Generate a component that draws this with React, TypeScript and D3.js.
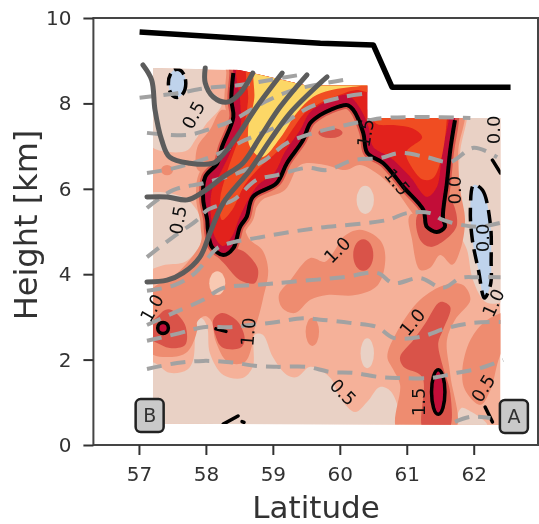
import React, { useEffect, useRef } from 'react';
import * as d3 from 'd3';

type P = [number, number];

const latTicks = [57, 58, 59, 60, 61, 62];
const heightTicks = [0, 2, 4, 6, 8, 10];

// outline of the section that has data
const field: P[] = [[57.21, 0.5], [57.21, 8.83], [58.5, 8.78], [59.5, 8.42], [60.41, 8.42], [60.41, 7.66], [62.4, 7.66], [62.4, 0.47]];

// filled contour levels as [latitude, height]
const beigeUpper: P[] = [[58.02, 9.02], [57.99, 8.43], [58.24, 8.01], [57.99, 7.49], [57.84, 7.14], [57.73, 6.91], [57.46, 6.86], [57.16, 7.03], [56.87, 9.02]];
const beigeLobe: P[] = [[57.0, 5.81], [57.69, 5.78], [57.96, 5.15], [57.91, 4.68], [57.69, 4.29], [57.39, 4.22], [57.0, 4.1]];
const beigeBottom: P[] = [[56.87, 1.94], [57.21, 1.94], [57.46, 1.69], [57.72, 1.76], [57.81, 1.99], [57.87, 2.93], [57.94, 2.97], [58.02, 2.76], [58.06, 2.15], [58.26, 1.64], [58.55, 1.57], [58.7, 1.83], [58.73, 2.58], [58.85, 2.58], [59.0, 2.06], [59.21, 1.64], [59.36, 1.59], [59.56, 1.83], [59.86, 1.57], [60.0, 1.12], [60.23, 0.77], [60.41, 1.01], [60.6, 1.36], [60.78, 1.22], [60.84, 0.35], [56.87, 0.35]];
const beigeRight: P[] = [[61.9, 8.0], [61.9, 7.66], [61.8, 6.91], [61.77, 5.97], [61.77, 5.04], [61.9, 4.57], [61.99, 3.86], [62.2, 3.33], [62.55, 3.51], [62.55, 8.0]];
const beigeCorner: P[] = [[61.75, 0.52], [61.82, 0.87], [61.97, 0.77], [62.14, 0.59], [62.2, 0.47]];

const coralUpper: P[] = [[58.24, 7.85], [58.06, 7.38], [57.87, 6.96], [57.88, 6.44], [58.09, 6.37], [58.29, 6.91], [58.39, 7.73]];
const coralWest: P[] = [[57.99, 5.15], [57.91, 4.68], [57.54, 3.98], [57.16, 3.58], [57.16, 2.18], [57.46, 2.06], [57.72, 2.18], [57.87, 2.69], [57.87, 2.88], [57.99, 3.02], [58.09, 2.88], [58.14, 2.46], [58.33, 1.94], [58.58, 1.94], [58.69, 2.34], [58.72, 2.69], [58.78, 2.97], [58.85, 3.4], [58.93, 4.1], [58.84, 4.57], [58.66, 4.8], [58.51, 5.15]];
const coralCentre: P[] = [[59.09, 3.51], [59.26, 3.86], [59.56, 4.38], [59.78, 4.29], [59.93, 4.57], [60.05, 4.87], [60.3, 5.04], [60.6, 4.8], [60.68, 4.4], [60.57, 3.75], [60.23, 3.51], [59.81, 3.51], [59.56, 3.4], [59.33, 3.09], [59.14, 3.21]];
const coralPlateau: P[] = [[58.66, 5.39], [58.84, 5.74], [59.18, 5.97], [59.41, 6.56], [59.78, 6.56], [60.08, 6.44], [60.3, 6.56], [60.53, 6.39], [60.83, 5.97], [61.2, 5.22], [61.45, 4.99], [61.2, 6.91], [60.15, 7.96], [59.26, 7.38], [58.51, 5.97]];
const coralEast: P[] = [[61.05, 5.39], [61.08, 4.8], [61.2, 4.1], [61.35, 4.15], [61.5, 4.45], [61.68, 4.22], [61.8, 4.57], [61.87, 5.27], [61.8, 5.97], [61.77, 6.91], [61.87, 7.66], [61.87, 8.1], [61.57, 8.1], [61.57, 5.39]];
const coralLower: P[] = [[60.71, 2.06], [60.83, 2.58], [61.2, 3.4], [61.57, 3.75], [61.84, 3.75], [61.95, 3.4], [61.72, 2.93], [61.6, 2.46], [61.65, 1.64], [61.72, 0.35], [60.86, 0.35], [60.9, 1.41], [60.8, 1.76]];
const coralEdge: P[] = [[62.55, 3.11], [62.2, 2.93], [61.95, 2.46], [61.83, 1.76], [61.87, 1.29], [62.1, 0.94], [62.25, 1.29], [62.37, 1.99], [62.55, 2.69]];

const darkWest: P[] = [[57.21, 2.93], [57.39, 3.16], [57.49, 3.16], [57.69, 2.81], [57.69, 2.34], [57.46, 2.27], [57.24, 2.41], [57.0, 2.58], [57.0, 2.88]];
const darkSecond: P[] = [[58.11, 2.93], [58.24, 3.09], [58.48, 2.88], [58.58, 2.46], [58.51, 2.27], [58.24, 2.29], [58.14, 2.58]];
const darkTip: P[] = [[58.11, 4.57], [58.51, 4.57], [58.66, 4.4], [58.78, 4.1], [58.73, 3.79], [58.51, 3.86], [58.29, 4.22]];
const darkEast: P[] = [[61.16, 5.39], [61.2, 4.8], [61.35, 4.64], [61.57, 4.8], [61.75, 5.15], [61.65, 5.74], [61.5, 5.62]];
const darkLower: P[] = [[60.9, 2.06], [61.1, 2.46], [61.28, 2.86], [61.5, 3.35], [61.65, 3.23], [61.54, 2.69], [61.47, 2.39], [61.54, 1.83], [61.65, 1.22], [61.62, 0.35], [61.25, 0.35], [61.23, 1.59], [60.95, 1.83]];

// the 1.5 contour along the ridge
const ridge: P[] = [[58.41, 8.71], [58.38, 8.08], [58.41, 7.68], [58.24, 6.98], [58.17, 6.6], [57.99, 6.28], [57.96, 5.74], [58.02, 5.27], [58.03, 5.04], [58.09, 4.64], [58.26, 4.45], [58.41, 4.61], [58.51, 5.11], [58.61, 5.34], [58.7, 5.81], [59.06, 6.14], [59.21, 6.6], [59.45, 7.14], [59.56, 7.54], [59.71, 7.73], [59.86, 7.85], [60.11, 7.96], [60.2, 7.85], [60.35, 7.31], [60.41, 6.84], [60.65, 6.6], [60.95, 6.04], [61.25, 5.5], [61.28, 5.2], [61.3, 5.11], [61.45, 4.99], [61.57, 5.11], [61.54, 5.34], [61.6, 6.14], [61.65, 6.91], [61.72, 7.61]];
const ridgeCap: P[] = [[61.74, 9.05], [58.41, 9.05]];
const redCore: P[] = [[58.51, 9.02], [58.51, 8.08], [58.52, 7.49], [58.38, 6.91], [58.24, 6.44], [58.09, 5.97], [58.08, 5.27], [58.14, 4.85], [58.26, 4.66], [58.39, 4.89], [58.51, 5.36], [58.63, 5.74], [58.78, 6.09], [59.03, 6.39], [59.18, 6.86], [59.41, 7.38], [59.56, 7.8], [59.86, 8.08], [60.11, 8.2], [60.27, 7.96], [60.42, 7.49], [60.5, 6.98], [60.75, 6.74], [61.05, 6.28], [61.3, 5.81], [61.45, 6.04], [61.53, 6.91], [61.63, 7.66], [61.63, 9.02]];
const orangeWest: P[] = [[58.66, 9.02], [58.63, 8.08], [58.57, 7.49], [58.43, 6.91], [58.3, 6.32], [58.21, 5.74], [58.24, 5.27], [58.39, 5.5], [58.58, 6.09], [58.84, 6.56], [59.06, 6.86], [59.29, 7.38], [59.48, 7.78], [59.71, 8.01], [60.0, 8.2], [60.23, 8.31], [60.53, 8.27], [60.53, 9.02]];
const orangeEast: P[] = [[60.53, 8.08], [61.6, 8.08], [61.6, 7.66], [61.51, 6.67], [61.39, 6.25], [61.25, 6.21], [61.08, 6.49], [60.99, 6.86], [61.23, 7.21], [61.08, 7.42], [60.83, 7.49], [60.53, 7.54]];
const yellowCore: P[] = [[58.78, 9.02], [58.72, 8.08], [58.63, 7.38], [58.66, 6.98], [58.84, 6.74], [59.11, 7.19], [59.36, 7.78], [59.6, 8.15], [59.86, 8.31], [60.3, 8.41], [60.53, 8.45], [60.53, 9.02]];
const blueStrip: P[] = [[62.0, 6.09], [62.13, 5.97], [62.25, 5.15], [62.26, 4.33], [62.25, 3.75], [62.16, 3.44], [62.07, 4.1], [61.98, 4.8], [61.95, 5.5]];

// small closed blobs: lat, height, half width, half height
const beigeSpots = [[60.41, 2.15, 0.1, 0.35], [60.38, 5.74, 0.13, 0.33], [58.17, 3.79, 0.12, 0.28]];
const coralSpots = [[59.59, 2.65, 0.1, 0.33], [57.42, 6.44, 0.09, 0.12]];
const darkSpots = [[60.35, 4.45, 0.15, 0.37], [59.86, 7.31, 0.18, 0.12]];
const crimsonSpots = [[61.47, 1.24, 0.1, 0.52], [57.36, 2.74, 0.08, 0.13]];
const blueSpots = [[57.57, 8.47, 0.13, 0.33]];

const blackBits: P[][] = [
  [[58.26, 0.49], [58.48, 0.68]],
  [[58.54, 0.55], [58.57, 0.53]],
  [[62.17, 0.89], [62.28, 0.54]],
  [[58.15, 2.72], [58.3, 2.66]],
  [[62.28, 6.67], [62.4, 6.37]],
];

// solid grey lines
const grey1: P[] = [[57.06, 8.9], [57.19, 8.55], [57.24, 7.85], [57.34, 7.14], [57.46, 6.74], [57.76, 6.6], [58.11, 6.6], [58.21, 6.72], [58.46, 7.21], [58.76, 7.92], [59.14, 8.71]];
const grey2: P[] = [[57.99, 8.83], [57.99, 8.48], [58.11, 8.15], [58.32, 8.03], [58.51, 8.24], [58.7, 8.71]];
const grey3: P[] = [[57.12, 5.81], [57.42, 5.81], [57.72, 5.74], [57.96, 5.93], [58.26, 6.28], [58.55, 6.6], [58.81, 7.21], [59.11, 7.92], [59.51, 8.67]];
const grey4: P[] = [[57.12, 3.82], [57.42, 3.86], [57.66, 4.03], [57.91, 4.4], [58.06, 4.96], [58.26, 5.67], [58.66, 6.44], [58.96, 7.14], [59.26, 7.78], [59.71, 8.48], [59.81, 8.62]];

// dashed grey lines
const dash1: P[] = [[57.01, 8.13], [57.57, 8.24], [58.02, 8.36], [58.51, 8.43], [58.96, 8.55], [59.41, 8.67]];
const dash2: P[] = [[57.12, 7.31], [57.72, 7.26], [58.02, 7.38], [58.41, 7.61], [58.85, 8.01], [59.3, 8.31], [60.05, 8.55]];
const dash3: P[] = [[57.12, 6.37], [57.54, 6.49], [58.14, 6.79], [58.58, 7.14], [59.11, 7.49], [59.56, 7.92], [60.05, 8.15], [60.45, 8.24]];
const dash4: P[] = [[57.12, 5.55], [57.51, 5.97], [57.99, 6.14], [58.51, 6.39], [58.88, 6.67], [59.21, 7.07], [59.66, 7.33], [60.08, 7.49], [60.45, 7.61], [60.68, 7.66], [61.2, 7.68], [61.95, 7.66]];
const dash5: P[] = [[57.12, 4.4], [57.51, 4.87], [57.87, 5.27], [58.02, 5.5], [58.41, 5.74], [58.76, 6.21], [59.06, 6.32], [59.51, 6.49], [59.81, 6.44], [60.2, 6.67], [60.6, 6.72], [60.9, 6.84], [61.3, 6.74], [61.65, 6.63], [62.0, 6.96], [62.35, 6.74]];
const dash6: P[] = [[57.12, 3.61], [57.54, 3.75], [57.84, 4.03], [58.17, 4.61], [58.41, 4.75], [58.76, 4.85], [59.15, 4.96], [59.66, 5.08], [60.71, 5.27], [61.0, 5.43], [61.35, 5.43], [61.54, 5.27], [62.05, 5.11], [62.44, 5.22]];
const dash7: P[] = [[57.12, 2.81], [57.51, 3.09], [57.96, 3.4], [58.26, 3.68], [58.76, 3.75], [59.26, 3.82], [60.05, 3.93], [60.56, 4.03], [60.8, 3.79], [61.2, 3.91], [61.54, 3.68], [61.8, 3.91], [62.05, 3.93], [62.4, 3.93]];
const dash8: P[] = [[57.12, 2.44], [57.61, 2.62], [57.96, 2.76], [58.36, 2.76], [58.66, 2.81], [59.06, 2.88], [59.45, 2.97], [59.75, 2.93], [60.15, 2.86], [60.56, 2.76], [60.8, 2.51], [61.2, 2.53], [61.6, 2.74], [61.99, 2.86], [62.4, 2.88]];
const dash9: P[] = [[57.12, 1.78], [57.57, 1.92], [57.96, 1.97], [58.36, 1.94], [58.76, 1.85], [59.06, 1.83], [59.51, 1.83], [59.86, 1.71], [60.2, 1.69], [60.6, 1.59], [60.9, 1.57], [61.35, 1.57], [61.75, 1.69], [62.1, 1.8], [62.44, 1.99]];
const dash10: P[] = [[61.72, 0.54], [61.95, 0.66], [62.25, 0.63]];

const topLine: P[] = [[57.01, 9.67], [59.71, 9.41], [60.5, 9.37], [60.78, 8.38], [62.55, 8.38]];

// contour labels: text, lat, height, rotation
const contourLabels: [string, number, number, number][] = [
  ['0.5', 57.81, 7.73, -62], ['0.5', 57.58, 5.27, -80], ['1.0', 57.19, 3.21, -60],
  ['1.0', 58.63, 2.65, -85], ['1.0', 59.96, 4.57, -45], ['1.0', 61.08, 2.88, -50],
  ['1.5', 61.17, 1.01, -90], ['0.5', 60.05, 1.24, 45], ['0.5', 62.14, 1.33, -58],
  ['1.0', 62.29, 3.33, -65], ['0.0', 62.29, 7.38, -90], ['0.0', 61.72, 5.97, -90],
  ['1.5', 60.38, 7.31, -80], ['1.5', 60.86, 6.16, 50], ['0.0', 62.13, 4.85, -90],
];
const endLabels: [string, number, number][] = [['B', 57.16, 0.7], ['A', 62.6, 0.68]];

const BEIGE = '#e9d1c5';
const SALMON = '#f5b199';
const CORAL = '#ee8c70';
const DARK = '#d9534a';
const CRIMSON = '#c20d38';
const RED = '#e2201c';
const ORANGE = '#f04e20';
const YELLOW = '#fcd766';
const BLUE = '#bfd3ec';
const FONT = '"DejaVu Sans", sans-serif';

const x = d3.scaleLinear().domain([56.32, 62.96]).range([93.4, 538]);
const y = d3.scaleLinear().domain([0, 10]).range([445, 18]);

const closed = d3.line<P>().x(d => x(d[0])).y(d => y(d[1])).curve(d3.curveCatmullRomClosed.alpha(0.5));
const open = d3.line<P>().x(d => x(d[0])).y(d => y(d[1])).curve(d3.curveCatmullRom.alpha(0.5));
const straight = d3.line<P>().x(d => x(d[0])).y(d => y(d[1]));

const App = () => {
  const xAxis = useRef<SVGGElement>(null);
  const yAxis = useRef<SVGGElement>(null);

  useEffect(() => {
    const style = (g: any) => {
      g.select('.domain').remove();
      g.selectAll('line').attr('stroke', '#333').attr('stroke-width', 2);
      g.selectAll('text').attr('fill', '#333').style('font-family', FONT).style('font-size', '20px');
    };
    d3.select(xAxis.current).call(d3.axisBottom(x).tickValues(latTicks).tickSize(10).tickPadding(12).tickFormat(d3.format('d')) as any).call(style);
    d3.select(yAxis.current).call(d3.axisLeft(y).tickValues(heightTicks).tickSize(10).tickPadding(12).tickFormat(d3.format('d')) as any).call(style);
  }, []);

  const fill = (pts: P[], color: string) => <path key={color + pts[0].join()} d={closed(pts)!} fill={color} />;
  const spot = (s: number[], color: string) => (
    <ellipse key={color + s.join()} cx={x(s[0])} cy={y(s[1])} rx={x(s[0] + s[2]) - x(s[0])} ry={y(s[1]) - y(s[1] + s[3])} fill={color} />
  );
  const ridgeShape = closed([...ridge, ...ridgeCap])!;

  return (
    <svg width={539} height={524} style={{ position: 'absolute', left: 0, top: 0 }}>
      <defs>
        <clipPath id="fieldClip"><path d={straight(field) + 'Z'} /></clipPath>
        <filter id="soft" x="-5%" y="-5%" width="110%" height="110%"><feGaussianBlur stdDeviation={0.6} /></filter>
      </defs>
      <g filter="url(#soft)">
        <g clipPath="url(#fieldClip)">
          <path d={straight(field) + 'Z'} fill={SALMON} />
          {[beigeUpper, beigeLobe, beigeBottom, beigeRight, beigeCorner].map(p => fill(p, BEIGE))}
          {beigeSpots.map(s => spot(s, BEIGE))}
          {[coralUpper, coralWest, coralCentre, coralPlateau, coralEast, coralLower, coralEdge].map(p => fill(p, CORAL))}
          {coralSpots.map(s => spot(s, CORAL))}
          {beigeSpots.slice(2).map(s => spot(s, '#f8c9b2'))}
          <path d={ridgeShape} fill="none" stroke={CORAL} strokeWidth={14} />
          <path d={ridgeShape} fill="none" stroke={DARK} strokeWidth={8} />
          {[darkWest, darkSecond, darkTip, darkEast, darkLower].map(p => fill(p, DARK))}
          {darkSpots.map(s => spot(s, DARK))}
          <path d={ridgeShape} fill={CRIMSON} />
          {fill(redCore, RED)}
          {fill(orangeWest, ORANGE)}
          {fill(orangeEast, ORANGE)}
          {fill(yellowCore, YELLOW)}
          {fill(blueStrip, BLUE)}
          {blueSpots.map(s => spot(s, BLUE))}
          {crimsonSpots.map(s => spot(s, CRIMSON))}
          <path d={open(ridge)!} fill="none" stroke="#000" strokeWidth={4} />
          <path d={closed(blueStrip)!} fill="none" stroke="#000" strokeWidth={3.5} strokeDasharray="14 7" />
          {blueSpots.map(s => (
            <ellipse key={s.join()} cx={x(s[0])} cy={y(s[1])} rx={x(s[0] + s[2]) - x(s[0])} ry={y(s[1]) - y(s[1] + s[3])} fill="none" stroke="#000" strokeWidth={3.5} strokeDasharray="12 5" />
          ))}
          {crimsonSpots.map(s => (
            <ellipse key={s.join()} cx={x(s[0])} cy={y(s[1])} rx={x(s[0] + s[2]) - x(s[0])} ry={y(s[1]) - y(s[1] + s[3])} fill="none" stroke="#000" strokeWidth={3.5} />
          ))}
          {blackBits.map(b => <path key={b.join()} d={straight(b)!} fill="none" stroke="#000" strokeWidth={3.5} strokeLinecap="round" />)}
        </g>
        {[dash1, dash2, dash3, dash4, dash5, dash6, dash7, dash8, dash9, dash10].map(d => (
          <path key={d[0].join()} d={open(d)!} fill="none" stroke="#a2a2a2" strokeWidth={4} strokeDasharray="15 9" />
        ))}
        {[grey1, grey2, grey3, grey4].map(d => (
          <path key={d[0].join()} d={open(d)!} fill="none" stroke="#5c5c5c" strokeWidth={5} strokeLinecap="round" />
        ))}
        <path d={straight(topLine)!} fill="none" stroke="#000" strokeWidth={5.5} strokeLinejoin="round" />
        {contourLabels.map(([t, la, h, r], i) => (
          <text key={i} transform={`translate(${x(la)},${y(h)}) rotate(${r})`} textAnchor="middle" dominantBaseline="central" fontFamily={FONT} fontSize={18} fill="#111">{t}</text>
        ))}
        {endLabels.map(([t, la, h]) => (
          <g key={t} transform={`translate(${x(la)},${y(h)})`}>
            <rect x={-14} y={-16} width={28} height={33} rx={5} fill="#c9c9c9" stroke="#222" strokeWidth={2.5} />
            <text textAnchor="middle" dominantBaseline="central" fontFamily={FONT} fontSize={19} fill="#333">{t}</text>
          </g>
        ))}
        <rect x={x.range()[0]} y={y.range()[1]} width={x.range()[1] - x.range()[0]} height={y.range()[0] - y.range()[1]} fill="none" stroke="#444" strokeWidth={2} />
        <g ref={xAxis} transform={`translate(0,${y.range()[0]})`} />
        <g ref={yAxis} transform={`translate(${x.range()[0]},0)`} />
        <text x={316} y={518} textAnchor="middle" fontFamily={FONT} fontSize={31} fill="#333">Latitude</text>
        <text transform="translate(37,225) rotate(-90)" textAnchor="middle" fontFamily={FONT} fontSize={32} fill="#333">Height [km]</text>
      </g>
    </svg>
  );
};

export default App;
